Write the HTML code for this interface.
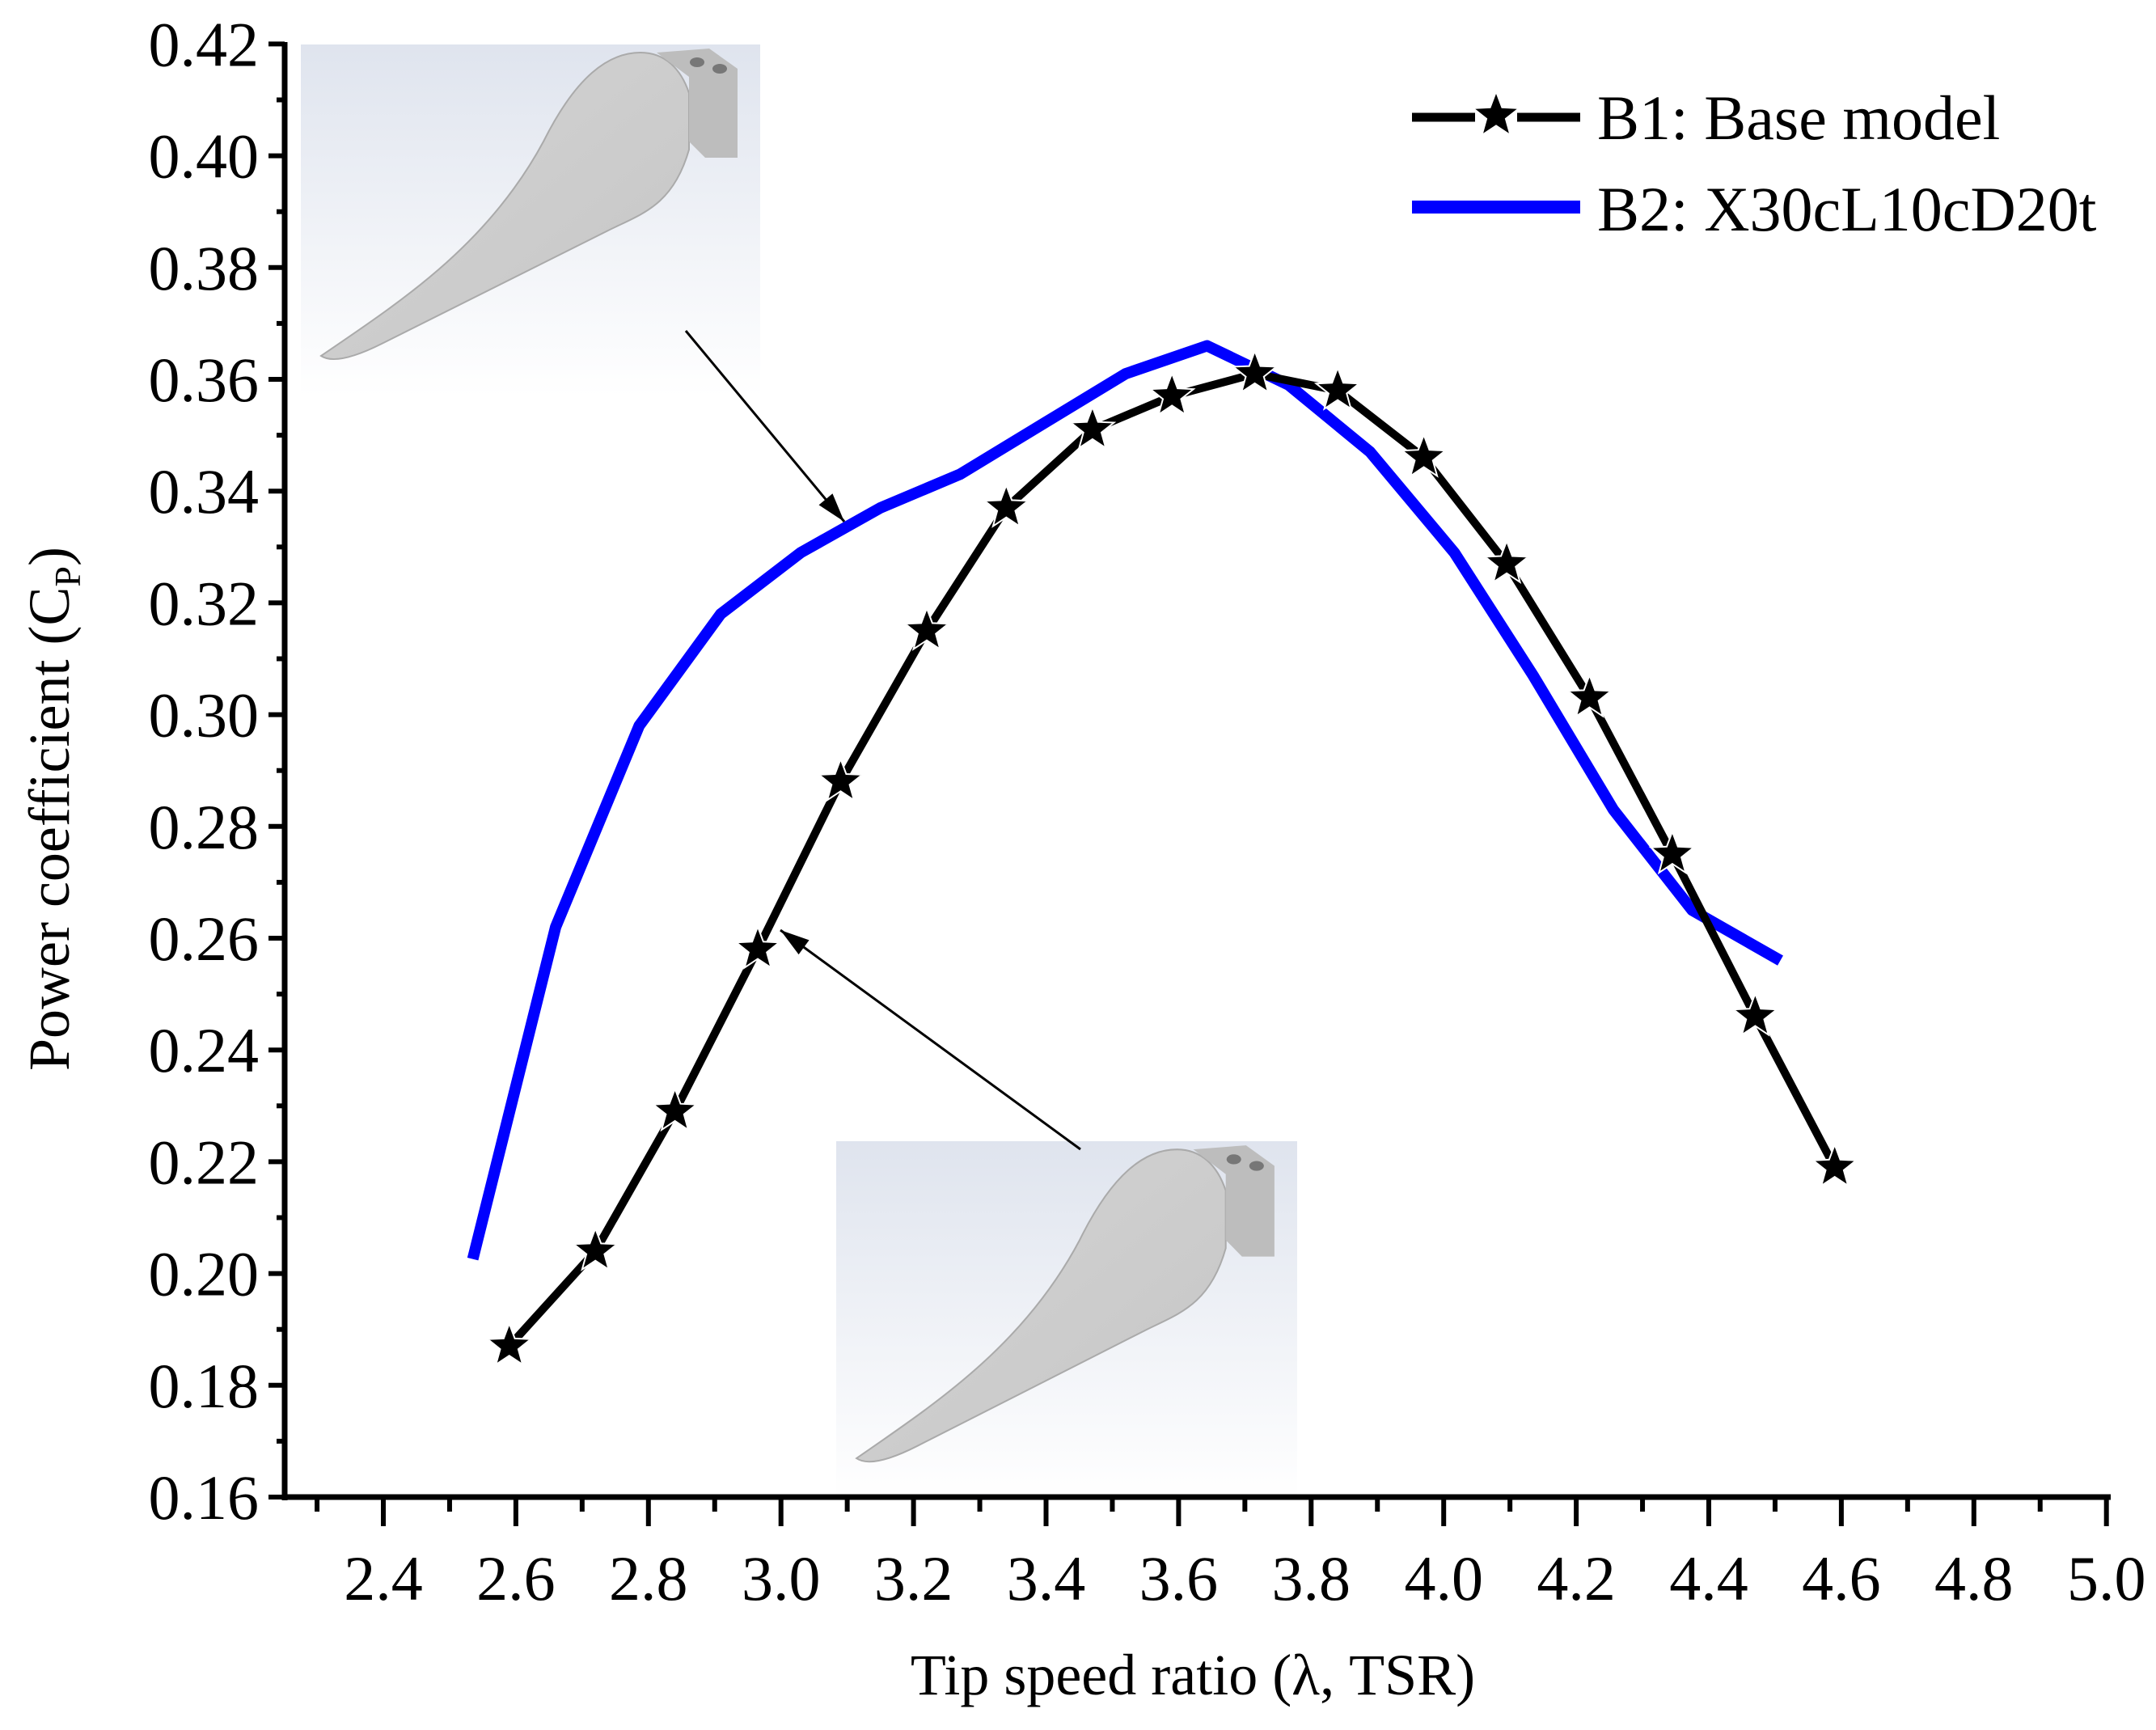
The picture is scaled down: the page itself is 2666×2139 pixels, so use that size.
<!DOCTYPE html>
<html><head><meta charset="utf-8"><style>
html,body{margin:0;padding:0;background:#fff}
svg{display:block;font-family:"Liberation Serif",serif}
</style></head><body>
<svg id="chart" width="2666" height="2139" viewBox="0 0 2666 2139" xmlns="http://www.w3.org/2000/svg">
<defs>
<linearGradient id="bg" x1="0" y1="0" x2="0" y2="1"><stop offset="0" stop-color="#dfe4ee"/><stop offset="1" stop-color="#ffffff"/></linearGradient>
<linearGradient id="bl" x1="0" y1="0" x2="1" y2="1"><stop offset="0" stop-color="#d4d4d4"/><stop offset="1" stop-color="#c6c6c6"/></linearGradient>
</defs>
<g id="images"></g>
<g id="axes"></g>
<g id="series"></g>
<g id="legend"></g>
</svg>
<script>
const b1X=[2.59,2.72,2.84,2.965,3.09,3.22,3.34,3.47,3.59,3.715,3.84,3.97,4.095,4.22,4.345,4.47,4.59];
const b1Y=[0.187,0.204,0.229,0.258,0.288,0.315,0.337,0.351,0.357,0.361,0.358,0.346,0.327,0.303,0.275,0.246,0.219];
const b2X=[2.535,2.66,2.786,2.909,3.03,3.15,3.27,3.395,3.52,3.643,3.766,3.889,4.016,4.135,4.256,4.375,4.508];
const b2Y=[0.2026,0.262,0.298,0.318,0.329,0.337,0.343,0.352,0.361,0.366,0.359,0.347,0.329,0.307,0.283,0.265,0.256];
const xTicks=["2.4","2.6","2.8","3.0","3.2","3.4","3.6","3.8","4.0","4.2","4.4","4.6","4.8","5.0"];
const yTicks=["0.16","0.18","0.20","0.22","0.24","0.26","0.28","0.30","0.32","0.34","0.36","0.38","0.40","0.42"];
const NS="http://www.w3.org/2000/svg";
const sx=v=>474+(v-2.4)/0.2*163.9;
const sy=v=>1851-(v-0.16)/0.02*138.2;
function mk(tag,attrs,parent){const e=document.createElementNS(NS,tag);for(const k in attrs)e.setAttribute(k,attrs[k]);parent.appendChild(e);return e;}
const axes=document.getElementById('axes'),series=document.getElementById('series'),legend=document.getElementById('legend'),images=document.getElementById('images');

function blade(x,y,w,h,name){
  const g=mk('g',{transform:`translate(${x},${y}) scale(${w/568},${h/435})`},images);
  
  
  mk('rect',{x:0,y:0,width:568,height:435,fill:'url(#bg)'},g);
  mk('path',{d:'M25,385 C120,320 230,250 300,120 C340,40 380,10 420,10 C450,10 470,30 480,60 L480,130 C460,200 420,210 380,230 L100,370 C70,385 40,395 25,385 Z',fill:'url(#bl)',stroke:'#aaa','stroke-width':2},g);
  mk('path',{d:'M440,10 L505,5 L540,30 L540,140 L500,140 L480,120 L480,40 Z',fill:'#bdbdbd'},g);
  mk('ellipse',{cx:490,cy:22,rx:9,ry:6,fill:'#777'},g);
  mk('ellipse',{cx:518,cy:30,rx:9,ry:6,fill:'#777'},g);
}
blade(372,55,568,435,'blade-image-b2');
blade(1034,1411,570,443,'blade-image-b1');

let e=mk('line',{x1:352,y1:1851,x2:2610,y2:1851,stroke:'#000','stroke-width':7},axes);

e=mk('line',{x1:352,y1:1855,x2:352,y2:52,stroke:'#000','stroke-width':7},axes);

xTicks.forEach((t,i)=>{
  const v=parseFloat(t),x=sx(v);
  mk('line',{x1:x,y1:1851,x2:x,y2:1887,stroke:'#000','stroke-width':6},axes);
  const m=sx(v-0.1);
  mk('line',{x1:m,y1:1851,x2:m,y2:1869,stroke:'#000','stroke-width':6},axes);
  const tx=mk('text',{x:x,y:1978,'font-size':78,'text-anchor':'middle'},axes);
  tx.textContent=t;
  
  
});
yTicks.forEach((t,i)=>{
  const v=parseFloat(t),y=sy(v);
  mk('line',{x1:352,y1:y,x2:332,y2:y,stroke:'#000','stroke-width':6},axes);
  if(i<yTicks.length-1){const m=sy(v+0.01);mk('line',{x1:352,y1:m,x2:342,y2:m,stroke:'#000','stroke-width':6},axes);}
  const tx=mk('text',{x:320,y:y+27,'font-size':78,'text-anchor':'end'},axes);
  tx.textContent=t;
  
  
});
e=mk('text',{x:1475,y:2095,'font-size':72,'text-anchor':'middle'},axes);
e.textContent='Tip speed ratio (λ, TSR)';

e=mk('text',{x:0,y:0,'font-size':72,'text-anchor':'middle',transform:'translate(85,1000) rotate(-90)'},axes);
e.innerHTML='Power coefficient (C<tspan font-size="46" dy="14">P</tspan><tspan dy="-14">)</tspan>';


function arrow(x1,y1,x2,y2,name){
  const g=mk('g',{},axes);
  
  mk('line',{x1,y1,x2,y2,stroke:'#000','stroke-width':3},g);
  const a=Math.atan2(y2-y1,x2-x1),L=36,W=11;
  const bx=x2-L*Math.cos(a),by=y2-L*Math.sin(a);
  mk('polygon',{points:`${x2},${y2} ${bx-W*Math.sin(a)},${by+W*Math.cos(a)} ${bx+W*Math.sin(a)},${by-W*Math.cos(a)}`,fill:'#000'},g);
}
arrow(848,409,1044,645,'arrow-to-b2');
arrow(1336,1421,965,1150,'arrow-to-b1');

function starPts(cx,cy,R){const r=R*0.42;let p=[];for(let k=0;k<10;k++){const ang=-Math.PI/2+k*Math.PI/5,rr=k%2?r:R;p.push((cx+rr*Math.cos(ang)).toFixed(1)+','+(cy+rr*Math.sin(ang)).toFixed(1));}return p.join(' ');}

let p=mk('polyline',{points:b2X.map((x,i)=>sx(x)+','+sy(b2Y[i])).join(' '),fill:'none',stroke:'#0000ff','stroke-width':14,'stroke-linejoin':'round'},series);

p=mk('polyline',{points:b1X.map((x,i)=>sx(x)+','+sy(b1Y[i])).join(' '),fill:'none',stroke:'#000','stroke-width':10,'stroke-linejoin':'round'},series);

b1X.forEach((x,i)=>{
  const s=mk('polygon',{points:starPts(sx(x),sy(b1Y[i]),28),fill:'#000',stroke:'#fff','stroke-width':2},series);
  
  
});

let g=mk('g',{},legend);

mk('line',{x1:1746,y1:145,x2:1824,y2:145,stroke:'#000','stroke-width':11},g);
mk('line',{x1:1876,y1:145,x2:1954,y2:145,stroke:'#000','stroke-width':11},g);
mk('polygon',{points:starPts(1850,143,27),fill:'#000'},g);
let t=mk('text',{x:1975,y:172,'font-size':78},g);t.textContent='B1: Base model';
g=mk('g',{},legend);

mk('line',{x1:1746,y1:256,x2:1954,y2:256,stroke:'#0000ff','stroke-width':16},g);
t=mk('text',{x:1975,y:285,'font-size':78},g);t.textContent='B2: X30cL10cD20t';
</script>
</body></html>
